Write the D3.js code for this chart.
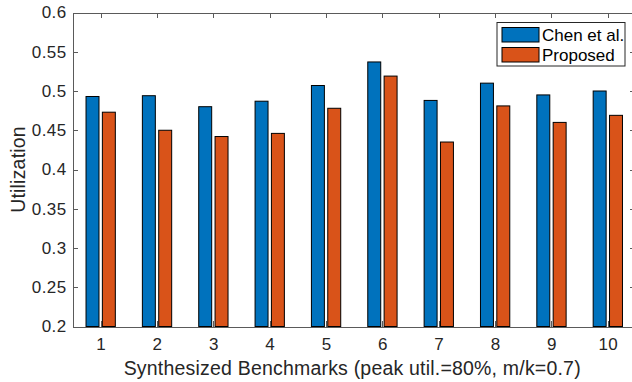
<!DOCTYPE html>
<html>
<head>
<meta charset="utf-8">
<script src="https://cdn.jsdelivr.net/npm/d3@7"></script>
<style>
  html,body{margin:0;padding:0;background:#fff;}
  svg{display:block;font-family:"Liberation Sans",Arial,Helvetica,sans-serif;}
  .axis path,.axis line{stroke:#5a5a5a;stroke-width:1;shape-rendering:crispEdges;}
  .axis text{fill:#262626;font-size:17px;letter-spacing:0.4px;}
</style>
</head>
<body>
<svg id="chart" width="632" height="382"></svg>
<script>
/* ===== Data ===== */
const categories = [1,2,3,4,5,6,7,8,9,10];
const chen     = [0.493,0.494,0.480,0.487,0.507,0.537,0.488,0.510,0.495,0.500];
const proposed = [0.473,0.450,0.442,0.446,0.478,0.519,0.435,0.481,0.460,0.469];
const yTicks   = [0.2,0.25,0.3,0.35,0.4,0.45,0.5,0.55,0.6];
const seriesNames = ['Chen et al.','Proposed'];
const colors = ['#0072BD','#D95319'];

/* ===== Layout ===== */
const svg = d3.select('#chart');
const m = {l:72.5, r:636, t:12.5, b:326.5};
const tick = 5.6;

const x = d3.scaleLinear().domain([0.5,10.5]).range([m.l,m.r]);
const y = d3.scaleLinear().domain([0.2,0.6]).range([m.b,m.t]);

const barW = 0.23, off = 0.145;   // in category units

/* ===== Bars ===== */
const series = [chen, proposed];
series.forEach((vals,s)=>{
  svg.append('g').selectAll('rect').data(vals).enter().append('rect')
    .attr('x',(d,i)=> x(categories[i] + (s===0?-off:off) - barW/2))
    .attr('y',d=>y(d))
    .attr('width',x(barW)-x(0))
    .attr('height',d=>y(0.2)-y(d))
    .attr('fill',colors[s]).attr('stroke','#000').attr('stroke-width',1);
});

/* ===== Axes ===== */
const fmtY = d => String(+d.toFixed(2));
svg.append('g').attr('class','axis').attr('transform',`translate(${m.l},0)`)
  .call(d3.axisLeft(y).tickValues(yTicks).tickFormat(fmtY).tickSizeInner(-tick).tickSizeOuter(0).tickPadding(6));
svg.append('g').attr('class','axis').attr('transform',`translate(${m.r},0)`)
  .call(d3.axisRight(y).tickValues(yTicks).tickFormat('').tickSizeInner(-tick).tickSizeOuter(0));
svg.append('g').attr('class','axis').attr('transform',`translate(0,${m.b})`)
  .call(d3.axisBottom(x).tickValues(categories).tickFormat(d3.format('d')).tickSizeInner(-tick).tickSizeOuter(0).tickPadding(11.4));
svg.append('g').attr('class','axis').attr('transform',`translate(0,${m.t})`)
  .call(d3.axisTop(x).tickValues(categories).tickFormat('').tickSizeInner(-tick).tickSizeOuter(0));

/* ===== Labels ===== */
svg.append('text').attr('x',(m.l+m.r)/2 - 2).attr('y',375).attr('text-anchor','middle')
  .attr('fill','#262626').style('font-size','19.5px').style('letter-spacing','0.2px')
  .text('Synthesized Benchmarks (peak util.=80%, m/k=0.7)');
svg.append('text').attr('transform',`translate(25,${(m.t+m.b)/2}) rotate(-90)`).attr('text-anchor','middle')
  .attr('fill','#262626').style('font-size','19.5px').style('letter-spacing','0.2px').text('Utilization');

/* ===== Legend ===== */
const lg = svg.append('g').attr('transform','translate(497,22.5)');
lg.append('rect').attr('width',128).attr('height',43.5).attr('fill','#fff').attr('stroke','#262626').attr('stroke-width',1);
seriesNames.forEach((n,i)=>{
  lg.append('rect').attr('x',5).attr('y',5+i*20).attr('width',37).attr('height',14.5)
    .attr('fill',colors[i]).attr('stroke','#000').attr('stroke-width',1);
  lg.append('text').attr('x',45).attr('y',18.3+i*20).attr('fill','#000').style('font-size','17px').text(n);
});
</script>
</body>
</html>
